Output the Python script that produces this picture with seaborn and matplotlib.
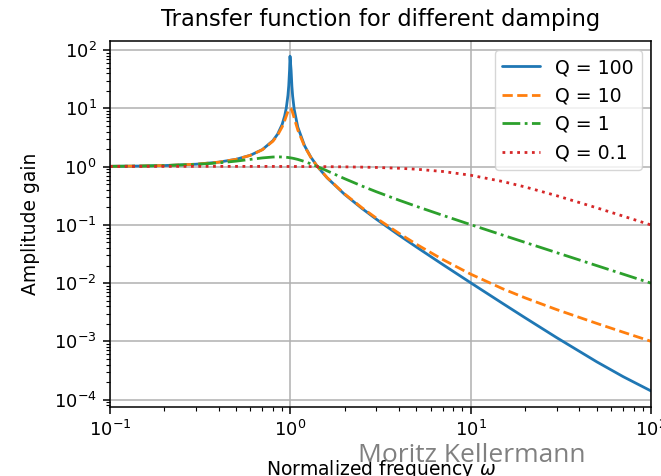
import matplotlib
matplotlib.use("Agg")
import matplotlib.pyplot as plt
import seaborn as sns
import pandas as pd

# Normalized frequency samples
freq = [0.1, 0.15, 0.2, 0.3, 0.4, 0.5, 0.6, 0.7, 0.8, 0.85, 0.9, 0.93, 0.95,
        0.97, 0.98, 0.99, 0.996, 1.01, 1.02, 1.03, 1.05, 1.1, 1.2, 1.3, 1.414,
        1.6, 2, 2.5, 3, 4, 5, 7, 10, 15, 20, 30, 50, 70, 100]

gain_q100 = [1.0101, 1.0230, 1.0417, 1.0989, 1.1905, 1.3333, 1.5625, 1.9606,
             2.7772, 3.6021, 5.2575, 7.3847, 10.2085, 16.698, 24.514, 44.993,
             78.34, 44.457, 24.000, 16.191, 9.7055, 4.7555, 2.2720, 1.4491,
             1.0, 0.64107, 0.33339, 0.19053, 0.12505, 0.066720, 0.041719,
             0.020884, 0.010151, 0.0045142, 0.0025559, 0.0011613, 0.00044739,
             0.00024917, 0.00014144]

gain_q10 = [1.0101, 1.0230, 1.0416, 1.0988, 1.1901, 1.3320, 1.5585, 1.9473,
            2.7203, 3.4580, 4.7757, 6.1232, 7.3790, 8.8452, 9.5062, 9.9518,
            10.0576, 9.7599, 9.1622, 8.4014, 6.8525, 4.2438, 2.2084, 1.4362,
            1.0, 0.64580, 0.33918, 0.19611, 0.13041, 0.071777, 0.046575,
            0.025428, 0.014284, 0.0080479, 0.0056041, 0.0035175, 0.0020404,
            0.0014434, 0.0010051]

gain_q1 = [1.0100, 1.0225, 1.0400, 1.0896, 1.1576, 1.2403, 1.3293, 1.4094,
           1.4598, 1.4678, 1.4626, 1.4532, 1.4443, 1.4336, 1.4276, 1.4211,
           1.4170, 1.4069, 1.3993, 1.3913, 1.3744, 1.3275, 1.2221, 1.1144,
           1.0, 0.84434, 0.62017, 0.46305, 0.37011, 0.26559, 0.20799,
           0.14577, 0.10100, 0.066963, 0.050125, 0.033370, 0.020008,
           0.014289, 0.010001]

gain_q01 = [1.0050, 1.0069, 1.0079, 1.0087, 1.0088, 1.0085, 1.0081, 1.0075,
            1.0068, 1.0064, 1.0059, 1.0057, 1.0055, 1.0053, 1.0052, 1.0051,
            1.0050, 1.0049, 1.0048, 1.0047, 1.0045, 1.0039, 1.0028, 1.0015,
            1.0, 0.99722, 0.99017, 0.97944, 0.96677, 0.93662, 0.90170,
            0.82481, 0.71069, 0.55642, 0.44812, 0.31655, 0.19619, 0.14145,
            0.099514]

labels = ["Q = 100", "Q = 10", "Q = 1", "Q = 0.1"]
series = [gain_q100, gain_q10, gain_q1, gain_q01]
colors = ["#1f77b4", "#ff7f0e", "#2ca02c", "#d62728"]
styles = ["-", "--", "-.", ":"]

sns.set_theme(style="ticks", rc={
    "axes.edgecolor": "black",
    "axes.linewidth": 1.1,
    "text.color": "black",
    "axes.labelcolor": "black",
    "xtick.color": "black",
    "ytick.color": "black",
    "xtick.major.size": 4.8,
    "ytick.major.size": 4.8,
    "xtick.minor.size": 2.7,
    "ytick.minor.size": 2.7,
    "xtick.major.width": 1.1,
    "ytick.major.width": 1.1,
    "xtick.minor.width": 0.8,
    "ytick.minor.width": 0.8,
    "xtick.major.pad": 4.8,
    "ytick.major.pad": 4.8,
    "grid.color": "#b0b0b0",
    "grid.linewidth": 1.1,
})
plt.rcParams["font.family"] = ["DejaVu Sans"]

fig = plt.figure(figsize=(6.61, 4.76), dpi=100)
ax = fig.add_axes([110 / 661, 1 - 407 / 476, 541 / 661, 366 / 476])
ax.set_xscale("log")
ax.set_yscale("log")

for g, lab, c, ls in zip(series, labels, colors, styles):
    df = pd.DataFrame({"freq": freq, "gain": g})
    sns.lineplot(data=df, x="freq", y="gain", ax=ax, label=lab, color=c,
                 linestyle=ls, linewidth=2.0, sort=False, estimator=None)

ax.set_xlim(0.1, 100)
ax.set_ylim(10 ** -4.125, 10 ** 2.155)
ax.grid(True, which="major")
ax.tick_params(axis="both", which="major", labelsize=13)

ax.set_title("Transfer function for different damping", fontsize=16.3, pad=11)
ax.set_xlabel("Normalized frequency $\\omega$", fontsize=13.5)
ax.xaxis.set_label_coords(0.5, (407 - 475) / 366)
ax.xaxis.label.set_va("baseline")
ax.set_ylabel("Amplitude gain", fontsize=13.5)
ax.yaxis.set_label_coords((40 - 110) / 541, 0.5)

leg = ax.legend(loc="upper right", fontsize=13.6, handlelength=2.0,
                framealpha=0.8, edgecolor="0.8", fancybox=True)

fig.text(358 / 661, 1 - 462 / 476, "Moritz Kellermann", color="#808080",
         fontsize=19, family=["Open Sans", "DejaVu Sans"], ha="left",
         va="baseline", zorder=10)

fig.savefig("out.png", dpi=100)
